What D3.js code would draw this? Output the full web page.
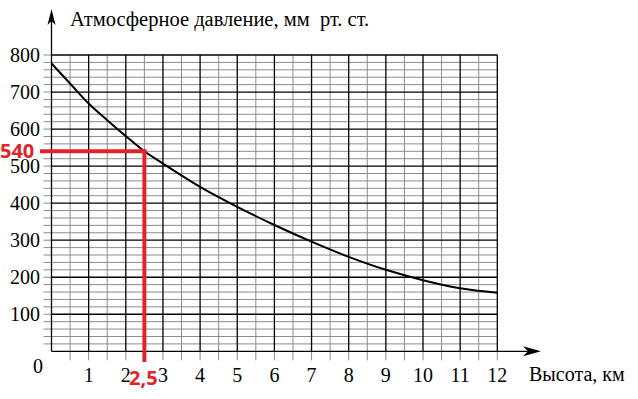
<!DOCTYPE html>
<html>
<head>
<meta charset="utf-8">
<script src="https://cdn.jsdelivr.net/npm/d3@7"></script>
<style>
  html, body { margin: 0; padding: 0; background: #fff; }
  svg { display: block; }
</style>
</head>
<body>
<script>
// Altitude (km) and atmospheric pressure (mm Hg) along the curve
const heights   = [0, 0.5, 1, 1.5, 2, 2.5, 3, 4, 5, 6, 7, 8, 9, 10, 11, 12];
const pressures = [777, 723, 669, 624, 581, 540, 507, 444, 390, 341, 296, 255, 220, 192, 170, 158];

// Axis ticks
const xTicks = [1, 2, 3, 4, 5, 6, 7, 8, 9, 10, 11, 12];
const yTicks = [100, 200, 300, 400, 500, 600, 700, 800];

// Highlighted reading
const markHeight = 2.5;
const markPressure = 540;
const markHeightLabel = "2,5";
const markPressureLabel = "540";

const titleY = "Атмосферное давление, мм  рт. ст.";
const titleX = "Высота, км";

const W = 638, H = 399;
const svg = d3.select("body").append("svg").attr("width", W).attr("height", H);

const x = d3.scaleLinear().domain([0, 12]).range([51.5, 497.3]);
const y = d3.scaleLinear().domain([0, 800]).range([351.3, 55]);

const serif = "'Liberation Serif', 'Times New Roman', serif";
const grid = svg.append("g");

// minor grid: every 0.5 km and every 20 mm
const minorX = d3.range(0.5, 12, 1);
const minorY = d3.range(20, 800, 20).filter(v => v % 100 !== 0);
grid.selectAll(".mx").data(minorX).join("line")
  .attr("x1", d => x(d)).attr("x2", d => x(d))
  .attr("y1", y(800)).attr("y2", y(0) + 9)
  .attr("stroke", "#8c8c8c").attr("stroke-width", 1);
grid.selectAll(".my").data(minorY).join("line")
  .attr("x1", x(0) - 8).attr("x2", x(12))
  .attr("y1", d => y(d)).attr("y2", d => y(d))
  .attr("stroke", "#8c8c8c").attr("stroke-width", 1);

// ticks outside the grid for the major lines
grid.selectAll(".tx").data(xTicks).join("line")
  .attr("x1", d => x(d)).attr("x2", d => x(d))
  .attr("y1", y(0)).attr("y2", y(0) + 9)
  .attr("stroke", "#8c8c8c").attr("stroke-width", 1);
grid.selectAll(".ty").data(yTicks).join("line")
  .attr("x1", x(0) - 8).attr("x2", x(0))
  .attr("y1", d => y(d)).attr("y2", d => y(d))
  .attr("stroke", "#8c8c8c").attr("stroke-width", 1);

// major grid
grid.selectAll(".Mx").data(xTicks).join("line")
  .attr("x1", d => x(d)).attr("x2", d => x(d))
  .attr("y1", y(800)).attr("y2", y(0))
  .attr("stroke", "#000").attr("stroke-width", 1.3);
grid.selectAll(".My").data(yTicks).join("line")
  .attr("x1", x(0)).attr("x2", x(12))
  .attr("y1", d => y(d)).attr("y2", d => y(d))
  .attr("stroke", "#000").attr("stroke-width", 1.3);

// axes with arrows
svg.append("line").attr("x1", x(0)).attr("x2", x(0))
  .attr("y1", y(0)).attr("y2", 14).attr("stroke", "#000").attr("stroke-width", 1.3);
svg.append("line").attr("x1", x(0)).attr("x2", 536)
  .attr("y1", y(0)).attr("y2", y(0)).attr("stroke", "#000").attr("stroke-width", 1.3);
const ax = x(0);
svg.append("path")
  .attr("d", `M${ax},9 L${ax + 4},25 L${ax},21 L${ax - 4},25 Z`)
  .attr("fill", "#000");
const ay = y(0);
svg.append("path")
  .attr("d", `M541,${ay} L523,${ay - 5} L528,${ay} L523,${ay + 5} Z`)
  .attr("fill", "#000");

// tick labels
svg.selectAll(".ly").data(yTicks).join("text")
  .attr("x", 40).attr("y", d => y(d) + 7)
  .attr("text-anchor", "end")
  .attr("font-family", serif).attr("font-size", 20)
  .text(d => d);
svg.selectAll(".lx").data(xTicks).join("text")
  .attr("x", d => x(d)).attr("y", d => y(0) + 31)
  .attr("text-anchor", "middle")
  .attr("font-family", serif).attr("font-size", 20)
  .text(d => d);
svg.append("text").attr("x", 38).attr("y", y(0) + 22)
  .attr("text-anchor", "middle")
  .attr("font-family", serif).attr("font-size", 20).text("0");

// axis titles
svg.append("text").attr("x", 70).attr("y", 26)
  .attr("font-family", serif).attr("font-size", 20.5)
  .attr("xml:space", "preserve").style("white-space", "pre")
  .text(titleY);
svg.append("text").attr("x", 529).attr("y", 381)
  .attr("font-family", serif).attr("font-size", 20)
  .text(titleX);

// pressure curve
const line = d3.line()
  .x((d, i) => x(heights[i]))
  .y(d => y(d))
  .curve(d3.curveMonotoneX);
svg.append("path").datum(pressures)
  .attr("d", line)
  .attr("fill", "none").attr("stroke", "#000").attr("stroke-width", 2);

// highlighted reading
const red = "#e3232c";
svg.append("line")
  .attr("x1", 40).attr("x2", x(markHeight) + 2)
  .attr("y1", y(markPressure)).attr("y2", y(markPressure))
  .attr("stroke", red).attr("stroke-width", 4);
svg.append("line")
  .attr("x1", x(markHeight)).attr("x2", x(markHeight))
  .attr("y1", y(markPressure) - 2).attr("y2", 362)
  .attr("stroke", red).attr("stroke-width", 4);
svg.append("text").attr("x", 0).attr("y", y(markPressure) + 7)
  .attr("font-family", "'Open Sans', sans-serif").attr("font-weight", "bold")
  .attr("font-size", 20).attr("fill", red)
  .text(markPressureLabel);
svg.append("text").attr("x", x(markHeight) - 1).attr("y", 385)
  .attr("text-anchor", "middle")
  .attr("font-family", "'Open Sans', sans-serif").attr("font-weight", "bold")
  .attr("font-size", 20).attr("fill", red)
  .text(markHeightLabel);
</script>
</body>
</html>
